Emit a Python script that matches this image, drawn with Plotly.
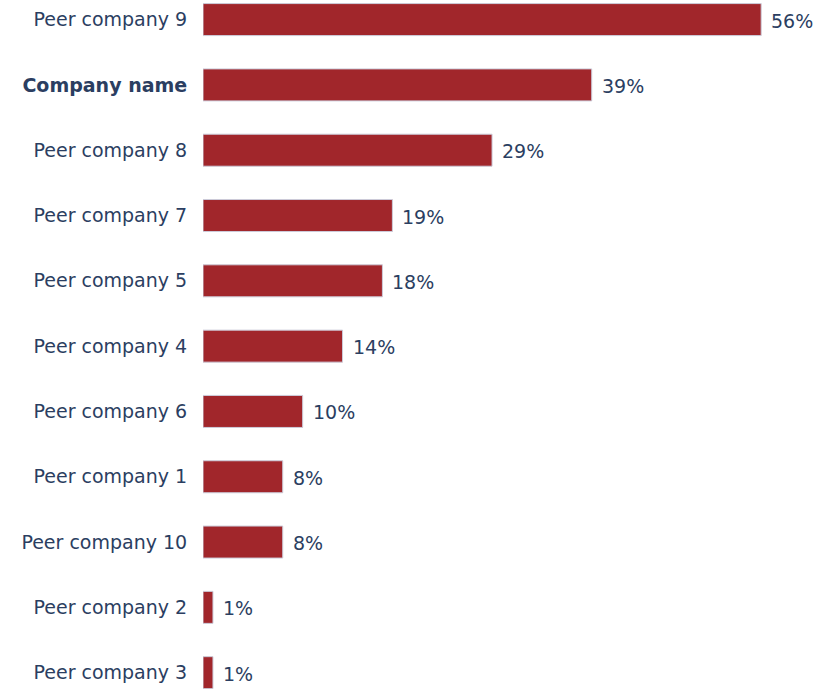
import plotly.graph_objects as go

companies = [
    "Peer company 9", "<b>Company name</b>", "Peer company 8", "Peer company 7",
    "Peer company 5", "Peer company 4", "Peer company 6", "Peer company 1",
    "Peer company 10", "Peer company 2", "Peer company 3",
]
values = [56, 39, 29, 19, 18, 14, 10, 8, 8, 1, 1]
value_labels = ["56%", "39%", "29%", "19%", "18%", "14%", "10%", "8%", "8%", "1%", "1%"]

BAR_COLOR = "#A1262B"
TEXT_COLOR = "#2B3E61"
FONT = "DejaVu Sans, Verdana, sans-serif"

fig = go.Figure(
    go.Bar(
        x=values,
        y=companies,
        orientation="h",
        width=0.49,
        marker=dict(color=BAR_COLOR, line=dict(color="#CCCCDA", width=1)),
        hoverinfo="skip",
    )
)

for v, c, t in zip(values, companies, value_labels):
    fig.add_annotation(
        x=v, y=c, text=t, showarrow=False, xanchor="left", yanchor="middle",
        xshift=8, yshift=-1, font=dict(family=FONT, size=19, color=TEXT_COLOR),
    )

fig.update_layout(
    width=814,
    height=689,
    margin=dict(l=203, r=0, t=0, b=0),
    paper_bgcolor="white",
    plot_bgcolor="white",
    showlegend=False,
    font=dict(family=FONT, size=19, color=TEXT_COLOR),
    xaxis=dict(range=[0, 61.3], visible=False, fixedrange=True),
    yaxis=dict(
        type="category",
        categoryorder="array",
        categoryarray=companies,
        range=[10.25, -0.30],
        showgrid=False,
        zeroline=False,
        showline=False,
        ticks="outside",
        ticklen=11,
        tickcolor="rgba(0,0,0,0)",
        tickfont=dict(family=FONT, size=19, color=TEXT_COLOR),
    ),
)

fig.write_html("out.html")
